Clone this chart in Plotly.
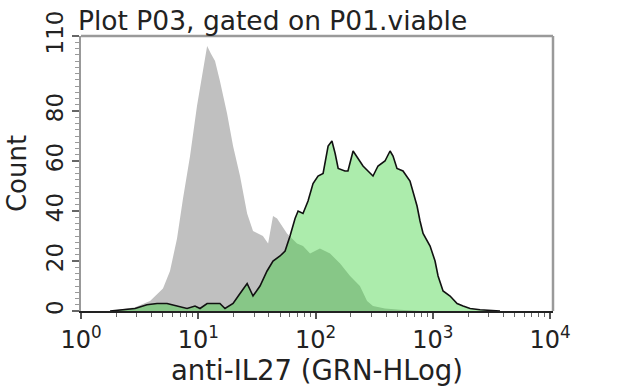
import plotly.graph_objects as go

# Isotype / control histogram (gray)
gray_x = [1.77, 2.15, 2.89, 3.88, 5.00, 5.74, 6.59, 7.41, 8.51, 9.75, 10.8, 11.9, 12.8, 13.9,
          15.3, 17.6, 19.8, 22.7, 26.1, 29.3, 35.6, 39.4, 43.4, 47.0, 57.1, 69.5, 78.2, 89.8,
          109, 133, 162, 197, 239, 275, 309, 391, 526, 778]
gray_y = [0, 0.5, 1.5, 4, 9, 16, 29, 45, 62, 82, 95, 106, 103, 100,
          92, 79, 66, 54, 39, 32, 30, 27, 38, 37, 31, 27, 26, 23,
          25, 23, 19, 14, 10, 4, 2, 1, 0.5, 0]

# anti-IL27 stained histogram (green)
green_x = [1.77, 2.15, 2.89, 3.65, 4.45, 5.41, 6.59, 8.02, 9.38, 10.35, 11.9, 13.9, 15.3, 16.9,
           19.8, 22.7, 26.1, 29.3, 33.6, 38.6, 43.4, 49.8, 55.0, 60.6, 66.9, 71.0, 78.2, 86.3,
           95.2, 105, 116, 128, 138, 147, 156, 178, 189, 209, 230, 254, 280, 309, 341, 391,
           432, 458, 495, 557, 639, 679, 734, 778, 826, 948, 1045, 1109, 1223, 1404, 1611,
           1812, 2080, 2529, 3077, 3743]
green_y = [0, 0.5, 1, 2.5, 3, 3, 2, 1, 2, 1, 3, 3, 3, 1,
           3, 7, 11, 6, 10, 16, 20, 22, 24, 30, 37, 40, 39, 44,
           51, 54, 55, 66, 68, 63, 57, 56, 56, 64, 61, 58, 56, 54, 58, 60,
           64, 62, 57, 56, 52, 48, 42, 36, 31, 26, 20, 14, 8, 6, 3,
           2, 1, 0.5, 0.3, 0]

x_tickvals = [1, 10, 100, 1000, 10000]
x_ticktext = ["10<sup>0</sup>", "10<sup>1</sup>", "10<sup>2</sup>", "10<sup>3</sup>", "10<sup>4</sup>"]
x_minor = [m * d for d in [1, 10, 100, 1000] for m in range(2, 10)]
y_tickvals = [0, 20, 40, 60, 80, 110]
y_ticktext = ["0", "20", "40", "60", "80", "110"]

FONT = "DejaVu Sans"
TXT = "#222222"

fig = go.Figure()
fig.add_trace(go.Scatter(x=gray_x, y=gray_y, mode="lines", fill="tozeroy",
                         line=dict(width=0, color="rgb(192,192,192)"),
                         fillcolor="rgb(192,192,192)", showlegend=False, hoverinfo="skip"))
fig.add_trace(go.Scatter(x=green_x, y=green_y, mode="lines", fill="tozeroy",
                         line=dict(width=0, color="rgba(53,209,53,0.41)"),
                         fillcolor="rgba(53,209,53,0.41)", showlegend=False, hoverinfo="skip"))
fig.add_trace(go.Scatter(x=green_x, y=green_y, mode="lines",
                         line=dict(width=1.6, color="#111111"),
                         showlegend=False, hoverinfo="skip"))

fig.update_layout(
    width=640, height=391,
    margin=dict(l=81, r=87, t=36, b=80),
    paper_bgcolor="white", plot_bgcolor="white",
    font=dict(family=FONT, color=TXT),
    annotations=[dict(text="Plot P03, gated on P01.viable", xref="paper", yref="paper",
                      x=0, y=1, xanchor="left", yanchor="bottom", xshift=-5, yshift=-2,
                      showarrow=False, font=dict(size=26.5, family=FONT, color=TXT))],
)
fig.update_xaxes(type="log", range=[0, 4.025],
                 tickmode="array", tickvals=x_tickvals, ticktext=x_ticktext,
                 tickfont=dict(size=24, family=FONT, color=TXT),
                 ticks="outside", ticklen=6, tickwidth=1.5, tickcolor="#555555",
                 minor=dict(tickmode="array", tickvals=x_minor, ticks="outside",
                            ticklen=4, tickwidth=1.2, tickcolor="#666666"),
                 showline=True, linecolor="#222222", linewidth=2, mirror=False,
                 showgrid=False, zeroline=False,
                 title=dict(text="anti-IL27 (GRN-HLog)", font=dict(size=27.5, family=FONT, color=TXT),
                            standoff=3))
fig.update_yaxes(range=[0, 110],
                 tickmode="array", tickvals=y_tickvals, ticktext=y_ticktext, tickangle=-90,
                 tickfont=dict(size=23, family=FONT, color=TXT),
                 ticks="outside", ticklen=7, tickwidth=1.5, tickcolor="#666666",
                 minor=dict(dtick=2.5, ticks="outside", ticklen=4, tickwidth=1, tickcolor="#999999"),
                 showline=True, linecolor="#999999", linewidth=1.5,
                 showgrid=False, zeroline=False,
                 title=dict(text="Count", font=dict(size=26, family=FONT, color=TXT), standoff=8))
# top and right frame
fig.add_shape(type="line", xref="paper", yref="paper", x0=0, x1=1, y0=1, y1=1,
              line=dict(color="#9a9a9a", width=2.5))
fig.add_shape(type="line", xref="paper", yref="paper", x0=1, x1=1, y0=0, y1=1,
              line=dict(color="#9a9a9a", width=2.5))

fig.write_html("out.html")
